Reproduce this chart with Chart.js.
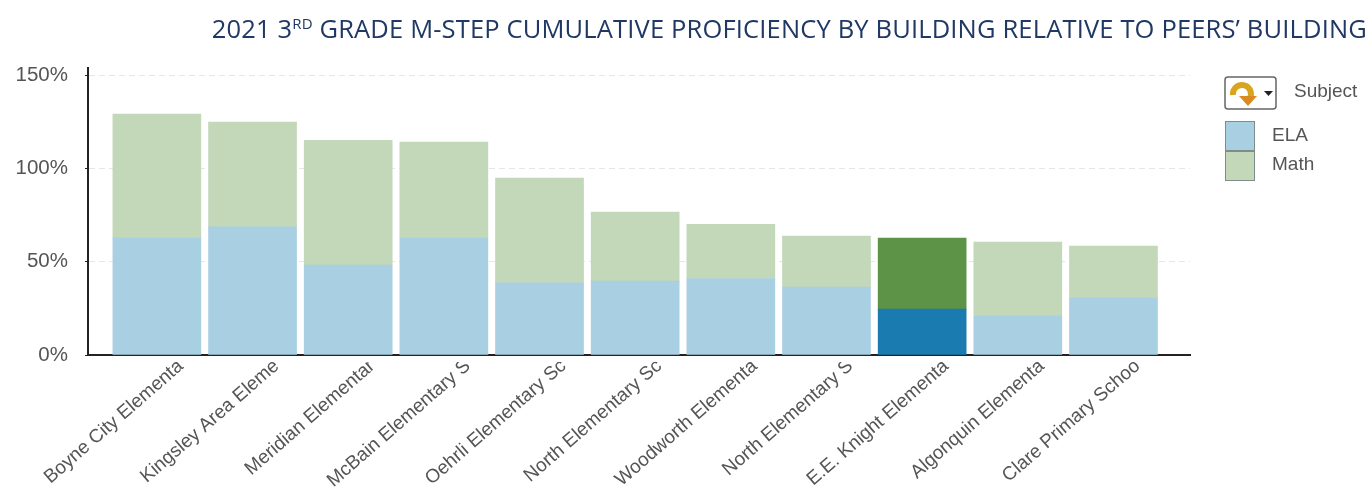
<!DOCTYPE html>
<html>
<head>
<meta charset="utf-8">
<title>2021 3rd grade M-STEP</title>
<script src="https://cdn.jsdelivr.net/npm/chart.js@4"></script>
<style>
    html, body { margin: 0; padding: 0; background: #fff; }
    #page { position: relative; width: 1369px; height: 495px; overflow: hidden; }
    #graphique { position: absolute; left: 0; top: 0; filter: blur(0.5px); }
    #titre { position: absolute; right: 2px; top: 11px; white-space: nowrap; color: #1f3864;
             font: 25.5px "Open Sans", sans-serif; letter-spacing: 0.16px; }
    #titre sup { font-size: 15px; line-height: 0; }
    #legende { position: absolute; left: 0; top: 0; filter: blur(0.4px);
               font: 19px "Liberation Sans", sans-serif; color: #555; }
    #legende div { position: absolute; white-space: nowrap; }
    .carre { width: 28px; height: 28px; border: 1px solid #7f8c8c; }
</style>
</head>
<body>
<div id="page">
    <canvas id="graphique" width="1369" height="495"></canvas>
    <div id="titre">2021 3<sup>RD</sup> GRADE M-STEP CUMULATIVE PROFICIENCY BY BUILDING RELATIVE TO PEERS’ BUILDING</div>
    <div id="legende">
        <svg style="position:absolute;left:1224px;top:76px" width="54" height="35" viewBox="0 0 54 35">
            <rect x="1" y="1" width="51" height="32" rx="3" fill="#fff" stroke="#666" stroke-width="1.5"/>
            <path d="M9 19 a9 9 0 1 1 17 3" fill="none" stroke="#d9a520" stroke-width="6"/>
            <path d="M15 20 h18 l-9 10 z" fill="#d98a20"/>
            <path d="M40 15 h9 l-4.5 5 z" fill="#222"/>
        </svg>
        <div style="left:1294px;top:80px" id="legendeTitre"></div>
        <div class="carre" style="left:1225px;top:121px;background:#a9cfe3"></div>
        <div class="carre" style="left:1225px;top:151px;background:#c3d7b9"></div>
        <div style="left:1272px;top:124px" id="legende1"></div>
        <div style="left:1272px;top:153px" id="legende2"></div>
    </div>
</div>
<script>
var ecoles = ['Boyne City Elementa', 'Kingsley Area Eleme', 'Meridian Elementar', 'McBain Elementary S',
    'Oehrli Elementary Sc', 'North Elementary Sc', 'Woodworth Elementa', 'North Elementary S',
    'E.E. Knight Elementa', 'Algonquin Elementa', 'Clare Primary Schoo'];
var ela = [62.7, 68.6, 48.2, 62.7, 38.6, 39.6, 41, 36.4, 24.6, 20.9, 30.5];
var math = [66.3, 56.2, 66.8, 51.3, 56.2, 37, 29, 27.3, 38.1, 39.6, 27.9];
var ticksY = [0, 50, 100, 150];
var ecoleActive = 8; // E.E. Knight, barre plus foncee

document.getElementById('legendeTitre').textContent = 'Subject';
document.getElementById('legende1').textContent = 'ELA';
document.getElementById('legende2').textContent = 'Math';

function points(valeurs) {
    return valeurs.map(function(v, i) { return { x: i, y: v }; });
}
function couleurs(normal, fonce) {
    return ecoles.map(function(e, i) { return i === ecoleActive ? fonce : normal; });
}

// les etiquettes sont coupees juste sous l'axe dans l'original
var coupeEtiquettes = {
    id: 'coupeEtiquettes',
    afterDraw: function(chart) {
        var c = chart.ctx, a = chart.chartArea;
        c.save();
        c.fillStyle = '#fff';
        c.fillRect(a.left - 10, a.bottom + 2, a.right - a.left + 20, 5);
        c.restore();
    }
};

var ctx = document.getElementById('graphique').getContext('2d');
var graphique = new Chart(ctx, {
    type: 'bar',
    data: {
        datasets: [{
            label: 'ELA',
            data: points(ela),
            backgroundColor: couleurs('#a9cfe3', '#1a7bb0'),
            barThickness: 88
        }, {
            label: 'Math',
            data: points(math),
            backgroundColor: couleurs('#c3d7b9', '#5c9346'),
            barThickness: 88
        }]
    },
    plugins: [coupeEtiquettes],
    options: {
        responsive: false,
        animation: false,
        layout: { padding: { top: 68, right: 179, left: 0, bottom: 0 } },
        plugins: { legend: { display: false }, title: { display: false }, tooltip: { enabled: false } },
        scales: {
            x: {
                type: 'linear',
                stacked: true,
                offset: false,
                min: -0.72,
                max: 10.8,
                afterBuildTicks: function(axis) {
                    axis.ticks = ecoles.map(function(e, i) { return { value: i }; });
                },
                afterFit: function(axis) { axis.height = 140; },
                grid: { display: false, drawTicks: false },
                border: { color: '#222', width: 2 },
                ticks: {
                    autoSkip: false,
                    maxRotation: 41,
                    minRotation: 41,
                    padding: 0,
                    labelOffset: 24,
                    color: '#555',
                    font: { family: '"Liberation Sans"', size: 19 },
                    callback: function(value) { return ecoles[value]; }
                }
            },
            y: {
                stacked: true,
                min: 0,
                max: 153.75,
                afterBuildTicks: function(axis) {
                    axis.ticks = ticksY.map(function(v) { return { value: v }; });
                },
                afterFit: function(axis) { axis.width = 88; },
                grid: { color: '#e6e6e6', tickColor: '#222', tickLength: 3 },
                border: { color: '#222', width: 2, dash: [6, 4] },
                ticks: {
                    padding: 17,
                    color: '#555',
                    font: { family: '"Liberation Sans"', size: 20.5 },
                    callback: function(value) { return value + '%'; }
                }
            }
        }
    }
});
</script>
</body>
</html>
